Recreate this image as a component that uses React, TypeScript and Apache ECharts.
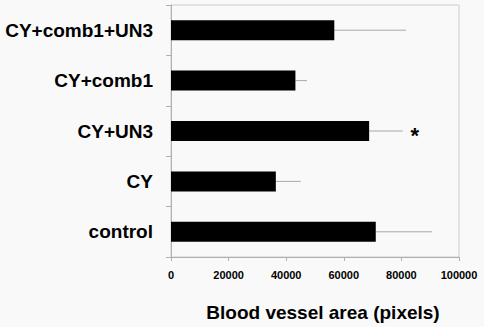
import React, { useEffect, useRef } from "react";
import * as echarts from "echarts";

const categories = ["control", "CY", "CY+UN3", "CY+comb1", "CY+comb1+UN3"];
const means = [71100, 36400, 68800, 43200, 56700];
const errors = [19600, 8700, 11700, 4000, 24900];
const marks = ["", "", "*", "", ""];
const xTicks = [0, 20000, 40000, 60000, 80000, 100000];

export default function App() {
  const ref = useRef<HTMLDivElement>(null);
  useEffect(() => {
    document.body.style.margin = "0";
    const chart = echarts.init(ref.current!, null, { renderer: "svg" });
    const font = "'Liberation Sans', Arial, sans-serif";
    chart.setOption({
      animation: false,
      backgroundColor: "#f9f9f9",
      grid: {
        left: 171,
        right: 25,
        top: 5,
        bottom: 70,
        show: true,
        borderColor: "#cccccc",
        borderWidth: 1,
        backgroundColor: "#f9f9f9",
      },
      xAxis: {
        type: "value",
        min: xTicks[0],
        max: xTicks[xTicks.length - 1],
        interval: 20000,
        splitLine: { show: false },
        axisLine: { show: true, lineStyle: { color: "#b0b0b0" } },
        axisTick: { show: true, length: 4, lineStyle: { color: "#b0b0b0" } },
        axisLabel: {
          margin: 12,
          fontFamily: font,
          fontWeight: "bold",
          fontSize: 11,
          color: "#000",
          formatter: (v: number) => String(v),
        },
      },
      yAxis: {
        type: "category",
        data: categories,
        axisLine: { show: true, lineStyle: { color: "#b0b0b0" } },
        axisTick: { show: true, length: 5, lineStyle: { color: "#b0b0b0" } },
        axisLabel: {
          margin: 18,
          fontFamily: font,
          fontWeight: "bold",
          fontSize: 19,
          color: "#000",
        },
      },
      series: [
        {
          type: "bar",
          data: means,
          barWidth: 20,
          itemStyle: { color: "#000" },
          z: 3,
        },
        {
          type: "custom",
          data: means.map((m, i) => [m, i, errors[i]]),
          encode: { x: 0, y: 1 },
          z: 2,
          renderItem: (params: any, api: any) => {
            const m = api.value(0);
            const c = api.value(1);
            const e = api.value(2);
            const p0 = api.coord([m, c]);
            const p1 = api.coord([m + e, c]);
            const children: any[] = [
              {
                type: "line",
                shape: { x1: p0[0], y1: p0[1], x2: p1[0], y2: p1[1] },
                style: { stroke: "#a8a8a8", lineWidth: 1 },
              },
            ];
            const mk = marks[params.dataIndex];
            if (mk) {
              children.push({
                type: "text",
                style: {
                  text: mk,
                  x: p1[0] + 12,
                  y: p1[1] + 4,
                  fontFamily: font,
                  fontWeight: "bold",
                  fontSize: 22,
                  fill: "#000",
                  align: "center",
                  verticalAlign: "middle",
                },
              });
            }
            return { type: "group", children };
          },
        },
      ],
      graphic: [
        {
          type: "text",
          x: 323,
          y: 312,
          style: {
            text: "Blood vessel area (pixels)",
            fontFamily: font,
            fontWeight: "bold",
            fontSize: 19,
            fill: "#000",
            align: "center",
            verticalAlign: "middle",
          },
        },
      ],
    });
    return () => chart.dispose();
  }, []);
  return <div ref={ref} style={{ width: 484, height: 327 }} />;
}
